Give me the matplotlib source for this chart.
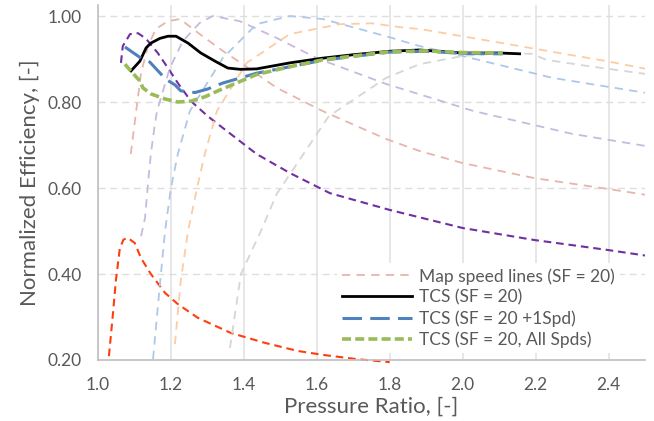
import matplotlib
matplotlib.use("Agg")
import matplotlib.pyplot as plt
from matplotlib.lines import Line2D

plt.rcParams["font.family"] = ["Lato", "DejaVu Sans"]
plt.rcParams["lines.scale_dashes"] = False

# map speed lines (pressure ratio, normalized efficiency), lowest speed first
spd1_x = [1.03, 1.041, 1.049, 1.06, 1.07, 1.082, 1.101, 1.118, 1.145, 1.184, 1.219, 1.274, 1.364, 1.457, 1.548, 1.616, 1.71, 1.80]
spd1_y = [0.209, 0.307, 0.384, 0.46, 0.48, 0.484, 0.472, 0.437, 0.40, 0.356, 0.33, 0.298, 0.263, 0.24, 0.221, 0.212, 0.202, 0.195]

spd2_x = [1.063, 1.068, 1.088, 1.11, 1.132, 1.164, 1.192, 1.219, 1.255, 1.301, 1.342, 1.435, 1.526, 1.636, 1.8, 2.0, 2.197, 2.397, 2.50]
spd2_y = [0.891, 0.93, 0.958, 0.96, 0.947, 0.914, 0.879, 0.844, 0.802, 0.767, 0.74, 0.679, 0.635, 0.588, 0.549, 0.507, 0.479, 0.456, 0.443]

spd3_x = [1.09, 1.104, 1.118, 1.137, 1.159, 1.192, 1.225, 1.279, 1.342, 1.397, 1.49, 1.616, 1.79, 1.882, 2.0, 2.197, 2.397, 2.504]
spd3_y = [0.679, 0.774, 0.867, 0.93, 0.97, 0.988, 0.993, 0.958, 0.919, 0.888, 0.833, 0.779, 0.714, 0.686, 0.658, 0.623, 0.598, 0.584]

spd4_x = [1.118, 1.129, 1.137, 1.145, 1.156, 1.162, 1.197, 1.233, 1.279, 1.315, 1.389, 1.49, 1.6, 1.79, 2.03, 2.30, 2.50]
spd4_y = [0.488, 0.53, 0.609, 0.679, 0.749, 0.779, 0.879, 0.942, 0.984, 1.0, 0.988, 0.949, 0.902, 0.842, 0.779, 0.726, 0.698]

spd5_x = [1.151, 1.17, 1.184, 1.2, 1.219, 1.252, 1.342, 1.435, 1.526, 1.616, 1.79, 1.882, 2.0, 2.247, 2.504]
spd5_y = [0.202, 0.377, 0.50, 0.60, 0.679, 0.779, 0.902, 0.981, 1.0, 0.993, 0.953, 0.93, 0.907, 0.856, 0.821]

spd6_x = [1.211, 1.227, 1.247, 1.274, 1.293, 1.326, 1.408, 1.526, 1.663, 1.75, 1.847, 1.882, 2.156, 2.395, 2.504]
spd6_y = [0.237, 0.384, 0.50, 0.609, 0.679, 0.779, 0.891, 0.958, 0.981, 0.983, 0.972, 0.97, 0.93, 0.895, 0.877]

spd7_x = [1.362, 1.392, 1.447, 1.49, 1.633, 1.79, 1.882, 2.0, 2.11, 2.19, 2.23, 2.34, 2.504]
spd7_y = [0.228, 0.40, 0.50, 0.586, 0.767, 0.856, 0.888, 0.907, 0.914, 0.912, 0.898, 0.884, 0.865]

# TCS results
tcs_x = [1.088, 1.115, 1.132, 1.145, 1.17, 1.192, 1.214, 1.247, 1.282, 1.321, 1.356, 1.39, 1.435, 1.526, 1.616, 1.7, 1.8, 1.882, 2.0, 2.1, 2.16]
tcs_y = [0.87, 0.895, 0.926, 0.937, 0.948, 0.953, 0.953, 0.937, 0.914, 0.895, 0.879, 0.876, 0.877, 0.891, 0.902, 0.91, 0.918, 0.921, 0.914, 0.914, 0.912]

tcs1_x = [1.074, 1.118, 1.142, 1.186, 1.211, 1.227, 1.266, 1.30, 1.342, 1.435, 1.526, 1.616, 1.7, 1.8, 1.9, 2.0, 2.11]
tcs1_y = [0.928, 0.902, 0.893, 0.853, 0.84, 0.826, 0.822, 0.83, 0.844, 0.867, 0.882, 0.897, 0.906, 0.916, 0.918, 0.913, 0.912]

tcsall_x = [1.074, 1.09, 1.115, 1.123, 1.145, 1.184, 1.219, 1.255, 1.293, 1.329, 1.435, 1.526, 1.616, 1.7, 1.8, 1.9, 2.0, 2.11]
tcsall_y = [0.888, 0.872, 0.849, 0.833, 0.819, 0.807, 0.80, 0.802, 0.812, 0.826, 0.864, 0.882, 0.898, 0.907, 0.917, 0.919, 0.915, 0.914]

fig = plt.figure(figsize=(6.54, 4.21), dpi=100)
ax = fig.add_axes([0.1498, 0.1449, 0.8364, 0.8426])

pale = (6, 4.5)
ax.plot(spd1_x, spd1_y, color="#ff3d0d", lw=1.5, dashes=(5.5, 3.5), clip_on=False)
ax.plot(spd2_x, spd2_y, color="#7030a0", lw=1.5, dashes=(5.5, 3.5))
ax.plot(spd3_x, spd3_y, color="#e8b4ae", lw=1.3, dashes=pale)
ax.plot(spd4_x, spd4_y, color="#c8b9de", lw=1.3, dashes=pale)
ax.plot(spd5_x, spd5_y, color="#adc8e8", lw=1.3, dashes=pale)
ax.plot(spd6_x, spd6_y, color="#fdcca2", lw=1.3, dashes=pale)
ax.plot(spd7_x, spd7_y, color="#d6d6d6", lw=1.3, dashes=pale)

ax.plot(tcs_x, tcs_y, color="black", lw=2.0, solid_capstyle="butt")
ax.plot(tcs1_x, tcs1_y, color="#4f81bd", lw=2.2, dashes=(14, 6))
ax.plot(tcsall_x, tcsall_y, color="#9bbb59", lw=2.6, dashes=(6.5, 3))

ax.set_xlim(1.0, 2.5)
ax.set_ylim(0.2, 1.025)
ax.set_xticks([1.0, 1.2, 1.4, 1.6, 1.8, 2.0, 2.2, 2.4])
ax.set_xticklabels([f"{v:.1f}" for v in ax.get_xticks()])
ax.set_yticks([0.2, 0.4, 0.6, 0.8, 1.0])
ax.set_yticklabels([f"{v:.2f}" for v in ax.get_yticks()])

for v in ax.get_xticks():
    ax.axvline(v, color="#e3e3e3", lw=1.2, zorder=0)
for v in ax.get_yticks():
    ax.axhline(v, color="#dedede", lw=1.0, dashes=(5, 3.5), zorder=0)

for s in ["top", "right"]:
    ax.spines[s].set_visible(False)
for s in ["left", "bottom"]:
    ax.spines[s].set_color("#bfbfbf")
    ax.spines[s].set_linewidth(1.2)
ax.tick_params(length=0, labelsize=12.5, colors="#595959", pad=12)

ax.set_xlabel("Pressure Ratio, [-]", fontsize=16, color="#595959", labelpad=3)
ax.set_ylabel("Normalized Efficiency, [-]", fontsize=16, color="#595959", labelpad=5)

handles = [
    Line2D([], [], color="#e8b4ae", lw=1.3, dashes=pale),
    Line2D([], [], color="black", lw=2.0),
    Line2D([], [], color="#4f81bd", lw=2.2, dashes=(14, 6)),
    Line2D([], [], color="#9bbb59", lw=2.6, dashes=(6.5, 3)),
]
labels = ["Map speed lines (SF = 20)", "TCS (SF = 20)", "TCS (SF = 20 +1Spd)", "TCS (SF = 20, All Spds)"]
leg = ax.legend(handles, labels, loc="upper left", bbox_to_anchor=(0.437, 0.274),
                fontsize=12.5, frameon=True, fancybox=False, framealpha=1,
                edgecolor="none", facecolor="white", handlelength=4.0,
                handletextpad=0.4, labelspacing=0.27, borderpad=0.3, borderaxespad=0)
for t in leg.get_texts():
    t.set_color("#595959")
leg.set_zorder(5)

fig.savefig("out.png", dpi=100)
